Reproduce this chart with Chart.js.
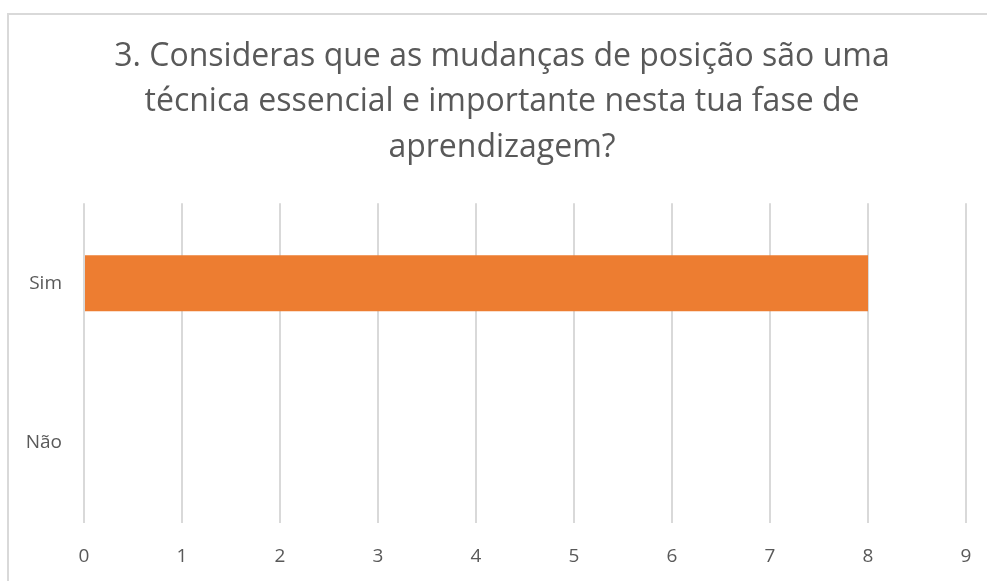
<!DOCTYPE html>
<html>
<head>
<meta charset="utf-8">
<script src="https://cdn.jsdelivr.net/npm/chart.js@4"></script>
<style>
  html, body { margin: 0; padding: 0; background: #fff; overflow: hidden; }
  #wrap { position: relative; width: 987px; height: 581px; }
  #frame { position: absolute; left: 7px; top: 13px; width: 1000px; height: 600px; border: 2px solid #d9d9d9; }
  #myChart { position: absolute; left: 0; top: 0; }
</style>
</head>
<body>
<div id="wrap">
  <div id="frame"></div>
  <canvas id="myChart" width="987" height="581"></canvas>
</div>
<script>
// data
let categorias = ['Sim', 'Não'];
let respostas = [8, 0];
let titulo = [
  '3. Consideras que as mudanças de posição são uma',
  'técnica essencial e importante nesta tua fase de',
  'aprendizagem?'
];
let eixoMin = 0;
let eixoMax = 9;

let cinza = '#595959';
let fonte = "'Open Sans', 'Noto Sans', sans-serif";

// the y labels sit in the left padding, so widen the y box after layout
const alargaEixo = {
  id: 'alargaEixo',
  afterLayout(chart) {
    chart.scales.y.left = 0;
  }
};

const ctx = document.getElementById('myChart');
let myChart = new Chart(ctx, {
  type: 'bar',
  data: {
    labels: categorias,
    datasets: [{
      data: respostas,
      backgroundColor: '#ED7D31',
      borderWidth: 0,
      categoryPercentage: 1,
      barPercentage: 0.35
    }]
  },
  options: {
    indexAxis: 'y',
    responsive: false,
    animation: false,
    layout: { padding: { left: 38, right: 21, top: 0, bottom: 0 } },
    plugins: {
      legend: { display: false },
      tooltip: { enabled: false },
      title: {
        display: true,
        text: titulo,
        color: cinza,
        font: { family: fonte, size: 32, weight: 'normal', lineHeight: 1.42 },
        padding: { top: 34, bottom: 33 }
      }
    },
    scales: {
      x: {
        min: eixoMin,
        max: eixoMax,
        ticks: { stepSize: 1, color: cinza, padding: 22, font: { family: fonte, size: 19 } },
        grid: { color: '#d9d9d9', lineWidth: 2, drawTicks: false },
        border: { display: false },
        afterFit: (s) => {
          s.height = 58;
          s.paddingLeft = 0;
          s.paddingRight = 0;
        }
      },
      y: {
        ticks: { color: cinza, padding: 22, font: { family: fonte, size: 19 } },
        grid: { display: false, drawTicks: false },
        border: { display: false },
        afterFit: (s) => { s.width = 46; }
      }
    }
  },
  plugins: [alargaEixo]
});
</script>
</body>
</html>
